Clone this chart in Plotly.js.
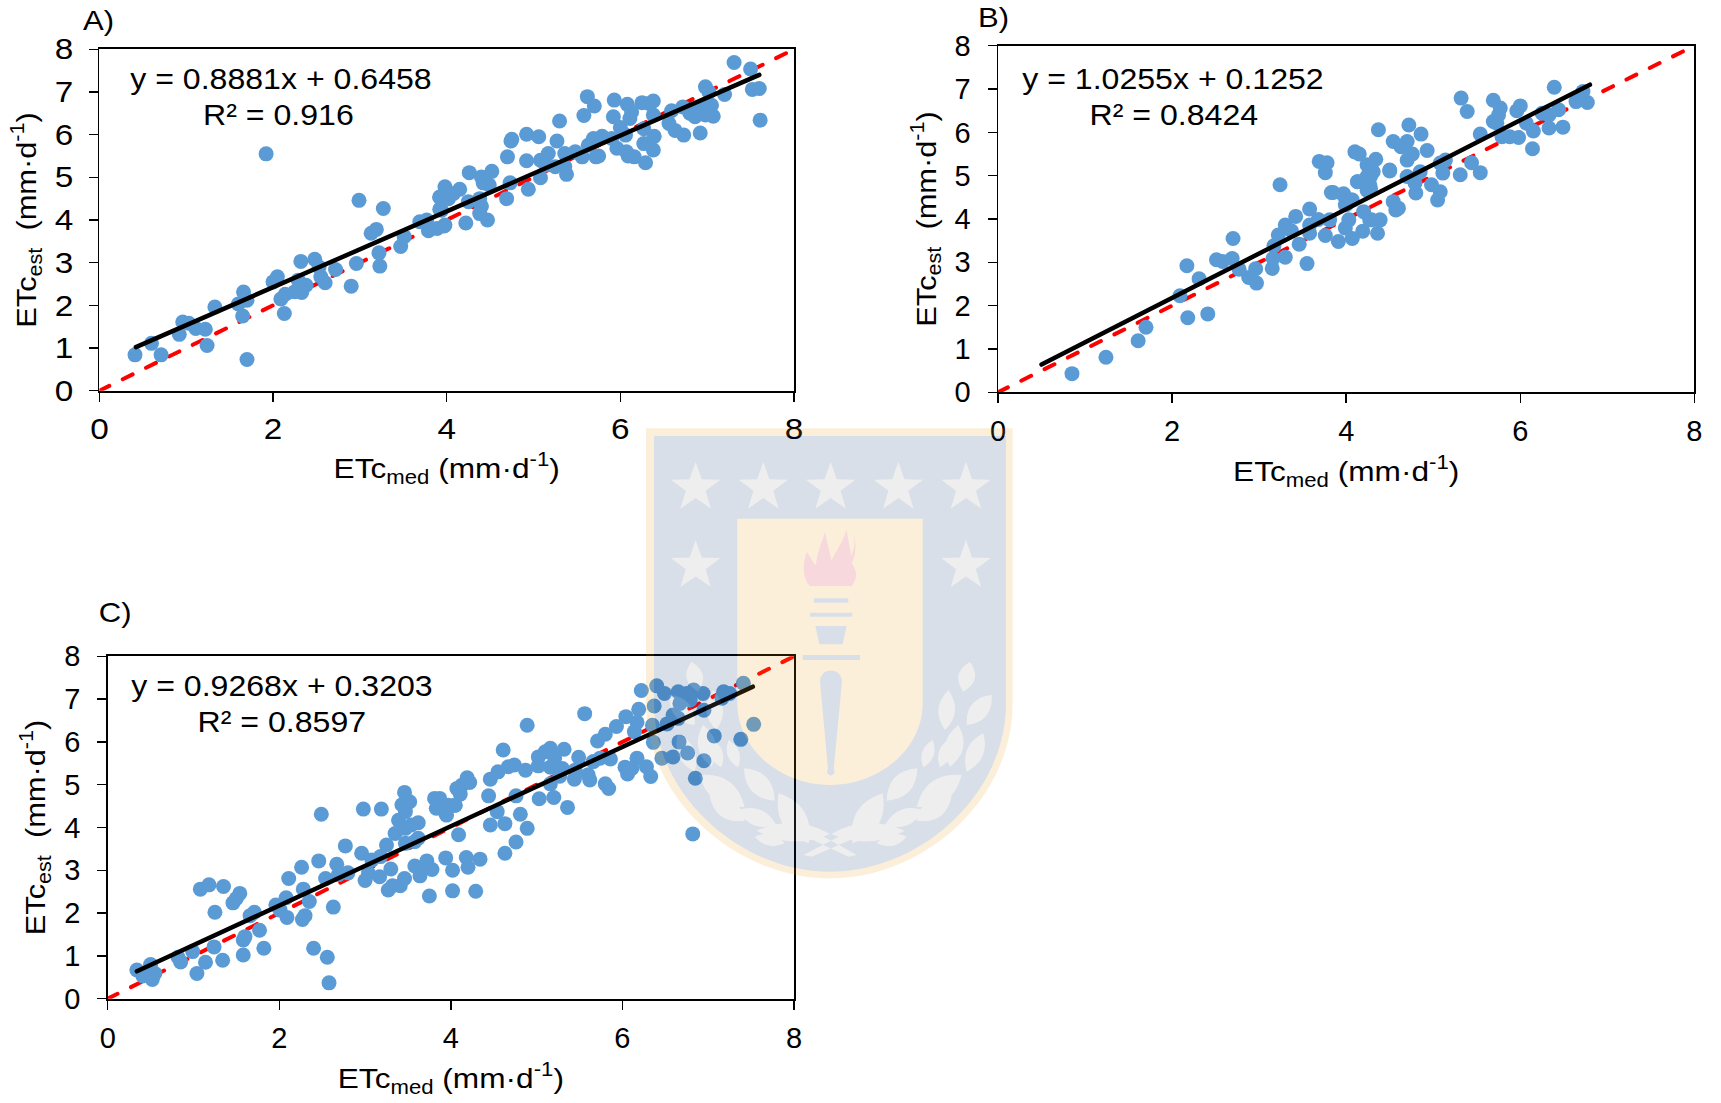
<!DOCTYPE html>
<html>
<head>
<meta charset="utf-8">
<script src="https://cdn.plot.ly/plotly-3.0.1.min.js"></script>
<style>html,body{margin:0;padding:0;background:#fff}#c{width:1721px;height:1103px}.scatterlayer .js-line{stroke-linecap:round}</style>
</head>
<body>
<div id="c"></div>
<script>
const axisTicksX = [0,2,4,6,8];
const axisTicksY = [0,1,2,3,4,5,6,7,8];
const identityX = [0,8];
const identityY = [0,8];

const panelLabels = ['A)','B)','C)'];
const equations = ['y = 0.8881x + 0.6458','y = 1.0255x + 0.1252','y = 0.9268x + 0.3203'];
const r2Labels = ['R² = 0.916','R² = 0.8424','R² = 0.8597'];

const aTrendX = [0.42,7.6];
const aTrendY = [1.02,7.40];
const aX = [0.41,0.60,0.71,0.92,0.96,1.03,1.11,1.22,1.24,1.33,1.60,1.66,1.70,1.65,1.70,1.92,2.0,2.05,2.09,2.14,2.13,2.25,2.33,2.38,2.29,2.32,2.48,2.53,2.55,2.60,2.72,2.90,2.96,2.99,3.27,3.13,3.19,3.22,3.23,3.47,3.51,3.69,3.77,3.79,3.89,3.97,3.94,3.92,3.98,4.15,3.92,3.92,4.02,4.08,4.26,4.40,4.52,4.42,4.49,4.73,4.38,4.25,4.38,4.40,4.47,4.22,3.98,4.70,4.75,4.74,4.92,5.06,4.92,4.69,4.94,5.08,5.08,5.17,5.14,5.25,5.38,5.36,5.27,5.30,5.36,5.48,5.56,5.58,5.62,5.70,5.63,5.69,5.79,5.72,5.75,5.90,5.92,5.93,6.0,6.06,5.96,6.07,6.09,6.16,6.08,6.13,6.11,6.25,6.38,6.33,6.38,6.27,6.39,6.27,6.38,6.29,6.59,6.72,6.56,6.63,6.73,6.92,6.86,6.98,7.02,7.05,7.07,6.98,6.96,7.20,7.31,7.5,7.52,7.60,7.61,6.80,6.90];
const aY = [0.84,1.11,0.84,1.32,1.61,1.58,1.46,1.44,1.06,1.96,2.03,2.31,2.12,1.75,0.73,5.55,2.55,2.67,2.15,2.26,1.81,2.32,2.30,2.47,2.59,3.03,3.08,2.90,2.67,2.53,2.84,2.45,2.98,4.46,4.27,3.69,3.78,3.23,2.92,3.38,3.61,3.96,4.0,3.75,3.80,3.86,4.23,4.53,4.78,4.72,4.54,4.25,4.50,4.62,5.11,5.01,5.14,4.87,4.82,4.87,4.50,4.43,4.15,4.32,4.0,3.93,3.88,5.48,5.89,5.85,6.01,5.95,5.39,4.50,4.72,4.99,5.40,5.56,5.29,5.25,5.07,5.25,5.85,6.32,5.56,5.60,5.48,6.45,6.89,6.67,5.75,5.91,5.96,5.48,5.50,5.91,6.42,6.81,6.17,5.99,5.68,5.60,5.50,5.48,6.71,6.53,6.38,6.75,6.79,6.73,6.46,6.14,5.96,5.79,5.64,5.34,6.56,6.65,6.26,6.10,5.99,6.04,6.42,7.12,7.0,6.69,6.43,6.46,6.65,6.94,7.69,7.54,7.06,7.08,6.34,6.50,6.55];

const bTrendX = [0.5,6.8];
const bTrendY = [0.64,7.1];
const bX = [0.85,1.24,1.61,1.70,2.18,2.41,2.09,2.17,2.31,2.51,2.58,2.69,2.70,2.77,2.88,2.96,2.97,3.15,3.16,3.30,3.17,3.22,3.30,3.37,3.42,3.46,3.55,3.58,3.58,3.58,3.68,3.76,3.83,3.24,3.76,3.69,3.78,3.97,4.07,3.99,3.81,3.91,3.99,4.07,4.03,4.2,4.19,4.36,4.29,4.39,4.54,4.57,4.13,4.28,4.24,4.5,4.31,5.32,5.39,6.39,5.69,5.77,5.75,5.73,5.69,6.0,5.96,5.54,5.79,5.88,5.98,6.14,6.15,6.33,6.49,6.25,6.33,6.44,6.07,6.64,6.72,6.77,6.70,4.37,4.72,4.86,4.54,4.63,4.70,4.93,4.10,4.15,4.76,4.70,4.34,4.24,4.50,4.28,4.13,4.27,4.24,4.70,4.85,5.14,5.08,5.11,5.44,5.54,5.31,4.79,4.98,5.08,4.80,5.05,4.60,3.85,3.97,4.06,4.0,4.27];
const bY = [0.43,0.81,1.19,1.50,1.72,1.81,2.23,2.92,2.62,3.06,3.02,3.09,3.55,2.84,2.65,2.85,2.52,2.86,3.09,3.12,3.38,3.63,3.86,3.73,4.06,3.42,2.97,4.23,3.67,3.86,3.99,3.62,4.61,4.79,5.07,5.33,5.30,4.58,4.44,4.33,3.98,3.48,3.79,3.55,3.98,4.17,3.72,3.67,3.98,3.98,4.40,4.21,4.86,4.71,4.98,5.11,5.09,6.79,6.48,7.04,6.74,6.56,6.40,6.21,6.25,6.61,6.50,5.96,5.90,5.90,5.88,5.62,6.03,6.10,6.12,6.44,6.40,6.52,6.21,6.71,6.94,6.69,6.83,6.06,6.17,5.96,5.79,5.67,5.79,5.58,5.55,5.50,5.50,5.36,5.38,5.25,5.13,4.98,4.86,4.79,4.66,4.98,5.09,5.36,5.29,5.06,5.30,5.07,5.02,4.83,4.79,4.63,4.60,4.44,4.25,4.61,4.55,4.44,4.33,3.98];

const cTrendX = [0.34,7.52];
const cTrendY = [0.64,7.29];
const cX = [0.34,0.41,0.50,0.55,0.52,0.47,0.82,0.85,0.99,1.04,1.14,1.34,1.24,1.08,1.18,1.35,1.25,1.46,1.50,1.54,1.66,1.71,1.60,1.58,1.58,1.77,1.82,1.96,2.08,2.01,2.09,2.11,2.26,2.28,2.35,2.30,2.27,2.46,2.49,2.40,2.56,2.58,2.63,2.54,2.67,2.69,2.80,2.77,2.96,2.98,3.19,3.0,3.04,3.17,3.30,3.25,3.08,3.18,3.27,3.32,3.41,3.46,3.58,3.72,3.64,3.78,3.66,3.75,4.02,3.94,4.02,4.18,4.20,4.29,4.34,4.09,3.35,3.39,3.43,3.46,3.52,3.47,3.47,3.62,3.54,3.47,3.62,3.58,3.81,3.87,3.83,3.94,3.97,4.05,4.09,4.13,4.19,4.22,3.86,3.95,4.05,4.11,4.07,4.44,4.46,4.55,4.67,4.74,4.87,4.61,4.89,4.76,4.54,4.46,4.63,4.81,4.89,4.76,4.63,5.02,5.02,5.10,5.16,5.21,5.16,5.30,5.32,5.27,5.16,5.03,5.20,5.36,5.49,5.66,5.74,5.86,5.45,5.44,5.60,5.62,5.56,5.71,5.80,5.93,6.04,6.19,6.17,6.14,6.22,6.35,6.37,6.40,6.49,6.52,6.65,6.83,6.75,6.94,6.67,6.59,6.65,6.79,6.95,7.18,7.25,7.16,7.41,7.53,7.07,7.38,6.36,6.66,6.76,6.59,6.46,6.95,6.85,6.82,6.17,6.03,6.06,6.28,6.33,6.11,5.80,5.84];
const cY = [0.67,0.53,0.80,0.59,0.45,0.59,0.97,0.86,1.10,0.59,0.85,0.90,1.21,2.56,2.66,2.62,2.02,2.24,2.34,2.46,1.94,2.02,1.45,1.37,1.02,1.60,1.18,2.19,2.36,2.07,1.90,2.81,3.07,2.56,2.27,1.94,1.85,3.22,4.31,1.18,0.97,0.37,2.14,2.81,3.14,2.90,2.94,3.57,3.40,4.43,4.43,2.76,2.93,2.85,3.03,3.59,3.24,3.32,2.54,2.64,2.64,2.81,3.10,3.22,2.87,3.02,3.05,2.40,2.52,3.29,3.0,3.30,3.07,2.51,3.26,3.83,3.86,4.17,4.53,4.82,4.60,4.37,3.98,4.11,4.06,3.63,3.75,3.67,4.68,4.68,4.45,4.33,4.52,4.52,4.88,4.99,5.16,5.05,4.60,4.29,4.52,4.78,4.91,4.74,5.13,5.30,5.42,5.46,5.34,5.81,6.39,4.74,4.37,4.06,4.09,4.31,3.98,3.66,3.40,5.65,5.44,5.77,5.85,5.62,5.41,5.38,5.83,5.20,5.02,4.67,4.70,4.47,5.64,5.54,5.62,5.60,5.34,5.13,5.23,5.11,6.66,6.02,6.18,6.36,6.59,6.76,6.46,6.24,7.20,6.39,6.84,7.31,7.13,6.42,7.17,7.21,7.13,7.13,6.90,6.63,6.55,6.98,6.74,7.17,7.13,7.02,7.37,6.41,6.14,6.06,5.99,6.00,5.74,5.65,5.62,5.56,5.15,3.85,5.62,5.41,5.25,5.42,5.19,5.38,5.02,4.91];

const W = 1721, H = 1103;
const BLUE = '#5B9BD5';
const FONT = '"Liberation Sans", Arial, sans-serif';

// pixel boxes of the three plot areas [left, right, top, bottom]
const boxes = [[99.4,794,49.3,390.7],[998,1694.4,45.7,392.3],[107.7,794,656.3,998.7]];
const datasets = [[aX,aY,aTrendX,aTrendY],[bX,bY,bTrendX,bTrendY],[cX,cY,cTrendX,cTrendY]];
const labelPos = [[98,21],[993,18],[115,613]];
const eqPos = [[281,78],[1173,78],[282,685]];
const r2Pos = [[278,115],[1174,115],[282,721]];
const xTitleStandoff = [14,15,16];
const yTitleStandoff = [11,10,10];

const traces = [];
const layout = {
  width:W, height:H, autosize:false, showlegend:false,
  margin:{l:0,r:0,t:0,b:0}, paper_bgcolor:'#fff', plot_bgcolor:'#fff',
  font:{family:FONT,color:'#000',size:28},
  annotations:[], images:[]
};

function ann(text,p,size){
  return {text:text,xref:'paper',yref:'paper',x:p[0]/W,y:1-p[1]/H,xanchor:'center',yanchor:'middle',
          showarrow:false,font:{family:FONT,size:size,color:'#000'}};
}

boxes.forEach((b,i)=>{
  const n = i===0?'':String(i+1);
  const xa='xaxis'+n, ya='yaxis'+n, xr='x'+n, yr='y'+n;
  layout[xa]={domain:[b[0]/W,b[1]/W],range:[0,8],tickmode:'array',tickvals:axisTicksX,ticktext:axisTicksX.map(String),
    ticks:'outside',ticklen:9,tickwidth:1.5,tickcolor:'#000',showgrid:false,zeroline:false,showline:true,
    linecolor:'#000',linewidth:2,mirror:true,anchor:yr,ticklabelstandoff:3,
    tickfont:{family:FONT,size:29,color:'#000'},
    title:{text:'ETc<sub>med</sub> (mm·d<sup>-1</sup>)',font:{family:FONT,size:28,color:'#000'},standoff:xTitleStandoff[i]}};
  layout[ya]={domain:[1-b[3]/H,1-b[2]/H],range:[0,8],tickmode:'array',tickvals:axisTicksY,ticktext:axisTicksY.map(String),
    ticks:'outside',ticklen:9,tickwidth:1.5,tickcolor:'#000',showgrid:false,zeroline:false,showline:true,
    linecolor:'#000',linewidth:1.5,mirror:true,anchor:xr,ticklabelstandoff:11,
    tickfont:{family:FONT,size:29,color:'#000'},
    title:{text:'ETc<sub>est</sub>  (mm·d<sup>-1</sup>)',font:{family:FONT,size:28,color:'#000'},standoff:yTitleStandoff[i]}};
  const d=datasets[i];
  traces.push({x:identityX,y:identityY,xaxis:xr,yaxis:yr,mode:'lines',line:{color:'#FF0000',width:4,dash:'11px,15px'},hoverinfo:'skip'});
  traces.push({x:d[0],y:d[1],xaxis:xr,yaxis:yr,mode:'markers',marker:{color:BLUE,size:15,line:{width:0}},cliponaxis:false});
  traces.push({x:d[2],y:d[3],xaxis:xr,yaxis:yr,mode:'lines',line:{color:'#000',width:4.5}});
  layout.annotations.push(ann(panelLabels[i],labelPos[i],27));
  layout.annotations.push(ann(equations[i],eqPos[i],30));
  layout.annotations.push(ann(r2Labels[i],r2Pos[i],30));
});

// ---- university shield watermark, drawn as a translucent overlay ----
function star(cx,cy,r){
  let s='';
  for(let k=0;k<10;k++){
    const a=-Math.PI/2+k*Math.PI/5, q=k%2?r*0.40:r;
    s+=(k?'L':'M')+(cx+q*Math.cos(a)).toFixed(1)+','+(cy+q*Math.sin(a)+8).toFixed(1);
  }
  return s+'Z';
}
function leaf(x1,y1,x2,y2,w){
  const mx=(x1+x2)/2,my=(y1+y2)/2,dx=x2-x1,dy=y2-y1,L=Math.hypot(dx,dy),nx=-dy/L*w,ny=dx/L*w;
  return 'M'+x1+','+y1+'Q'+(mx+nx)+','+(my+ny)+' '+x2+','+y2+'Q'+(mx-nx)+','+(my-ny)+' '+x1+','+y1+'Z';
}
const wreath=[[1000,845,1020,755,50],[945,960,955,840,50],[1010,945,1085,855,55],[960,1070,985,945,55],[1010,1085,1060,970,50],[880,1072,908,990,36],[930,1072,962,985,40],
 [860,1190,995,1095,70],[770,1172,862,1075,60],[860,1232,965,1158,60],[765,1245,880,1200,50],[668,1300,758,1150,75],[740,1300,830,1280,35],[380,1262,600,1272,55]];
const wreathPath=wreath.map(l=>leaf(...l)).join('');
const starPath=[[197,225],[400,225],[602,225],[805,225],[1008,225],[197,460],[1008,460]].map(c=>star(c[0],c[1],78)).join('');
const shield='<svg xmlns="http://www.w3.org/2000/svg" width="1200" height="1440" viewBox="0 0 1200 1440">'
 +'<path fill="#F19B0F" d="M48,55H1148V880C1148,1170 880,1405 600,1405C320,1405 48,1170 48,880Z"/>'
 +'<path fill="#03306B" d="M72,78H1128V880C1128,1155 870,1385 600,1385C330,1385 72,1155 72,880Z"/>'
 +'<path fill="#F19B0F" d="M322,326H878V880C878,1015 750,1125 600,1125C450,1125 322,1015 322,880Z"/>'
 +'<path fill="#949494" d="'+starPath+'"/>'
 +'<path fill="#D00023" d="M540,528C520,510 515,470 530,425C545,445 550,460 558,465C560,430 575,400 585,365C592,400 600,430 605,450C620,420 640,395 650,358C655,400 665,430 662,440C672,420 680,395 665,362C685,400 675,440 665,460C680,480 685,505 665,528Z"/>'
 +'<path fill="#03306B" d="M552,565H655V578H552ZM540,608H667V620H540ZM556,648H650L638,703H568ZM518,735H690V750H518ZM570,815C570,770 636,770 636,815L611,1078A11,11 0 1 1 594,1078Z"/>'
 +'<path fill="#949494" d="'+wreathPath+'"/>'
 +'<g transform="translate(1204,0) scale(-1,1)"><path fill="#949494" d="'+wreathPath+'"/></g>'
 +'<path fill="#949494" d="M520,1335L650,1268L672,1285L545,1340ZM680,1335L560,1268L538,1285L655,1340Z"/>'
 +'</svg>';
layout.images.push({source:'data:image/svg+xml;charset=utf-8,'+encodeURIComponent(shield),xref:'paper',yref:'paper',
  x:630/W,y:1-410/H,sizex:400/W,sizey:480/H,xanchor:'left',yanchor:'top',sizing:'stretch',opacity:0.15,layer:'above'});

function widen(t,s){
  const b=t.getBBox(); if(!b.width) return;
  const cx=b.x+b.width/2, old=t.getAttribute('transform')||'';
  t.setAttribute('transform',old+' translate('+cx+',0) scale('+s+',1) translate('+(-cx)+',0)');
}
Plotly.newPlot('c',traces,layout,{staticPlot:true,displayModeBar:false}).then(gd=>{
  // the reference's lettering is slightly wider than tall
  gd.querySelectorAll('.xtick text,.ytick text').forEach(t=>widen(t,1.15));
  gd.querySelectorAll('.xtitle,.x2title,.x3title').forEach(t=>widen(t,1.13));
  gd.querySelectorAll('.ytitle,.y2title,.y3title').forEach(t=>widen(t,1.1));
  gd.querySelectorAll('.annotation-text').forEach(t=>{
    widen(t, t.textContent.endsWith(')') ? 1.15 : 1.07);
  });
});
</script>
</body>
</html>
